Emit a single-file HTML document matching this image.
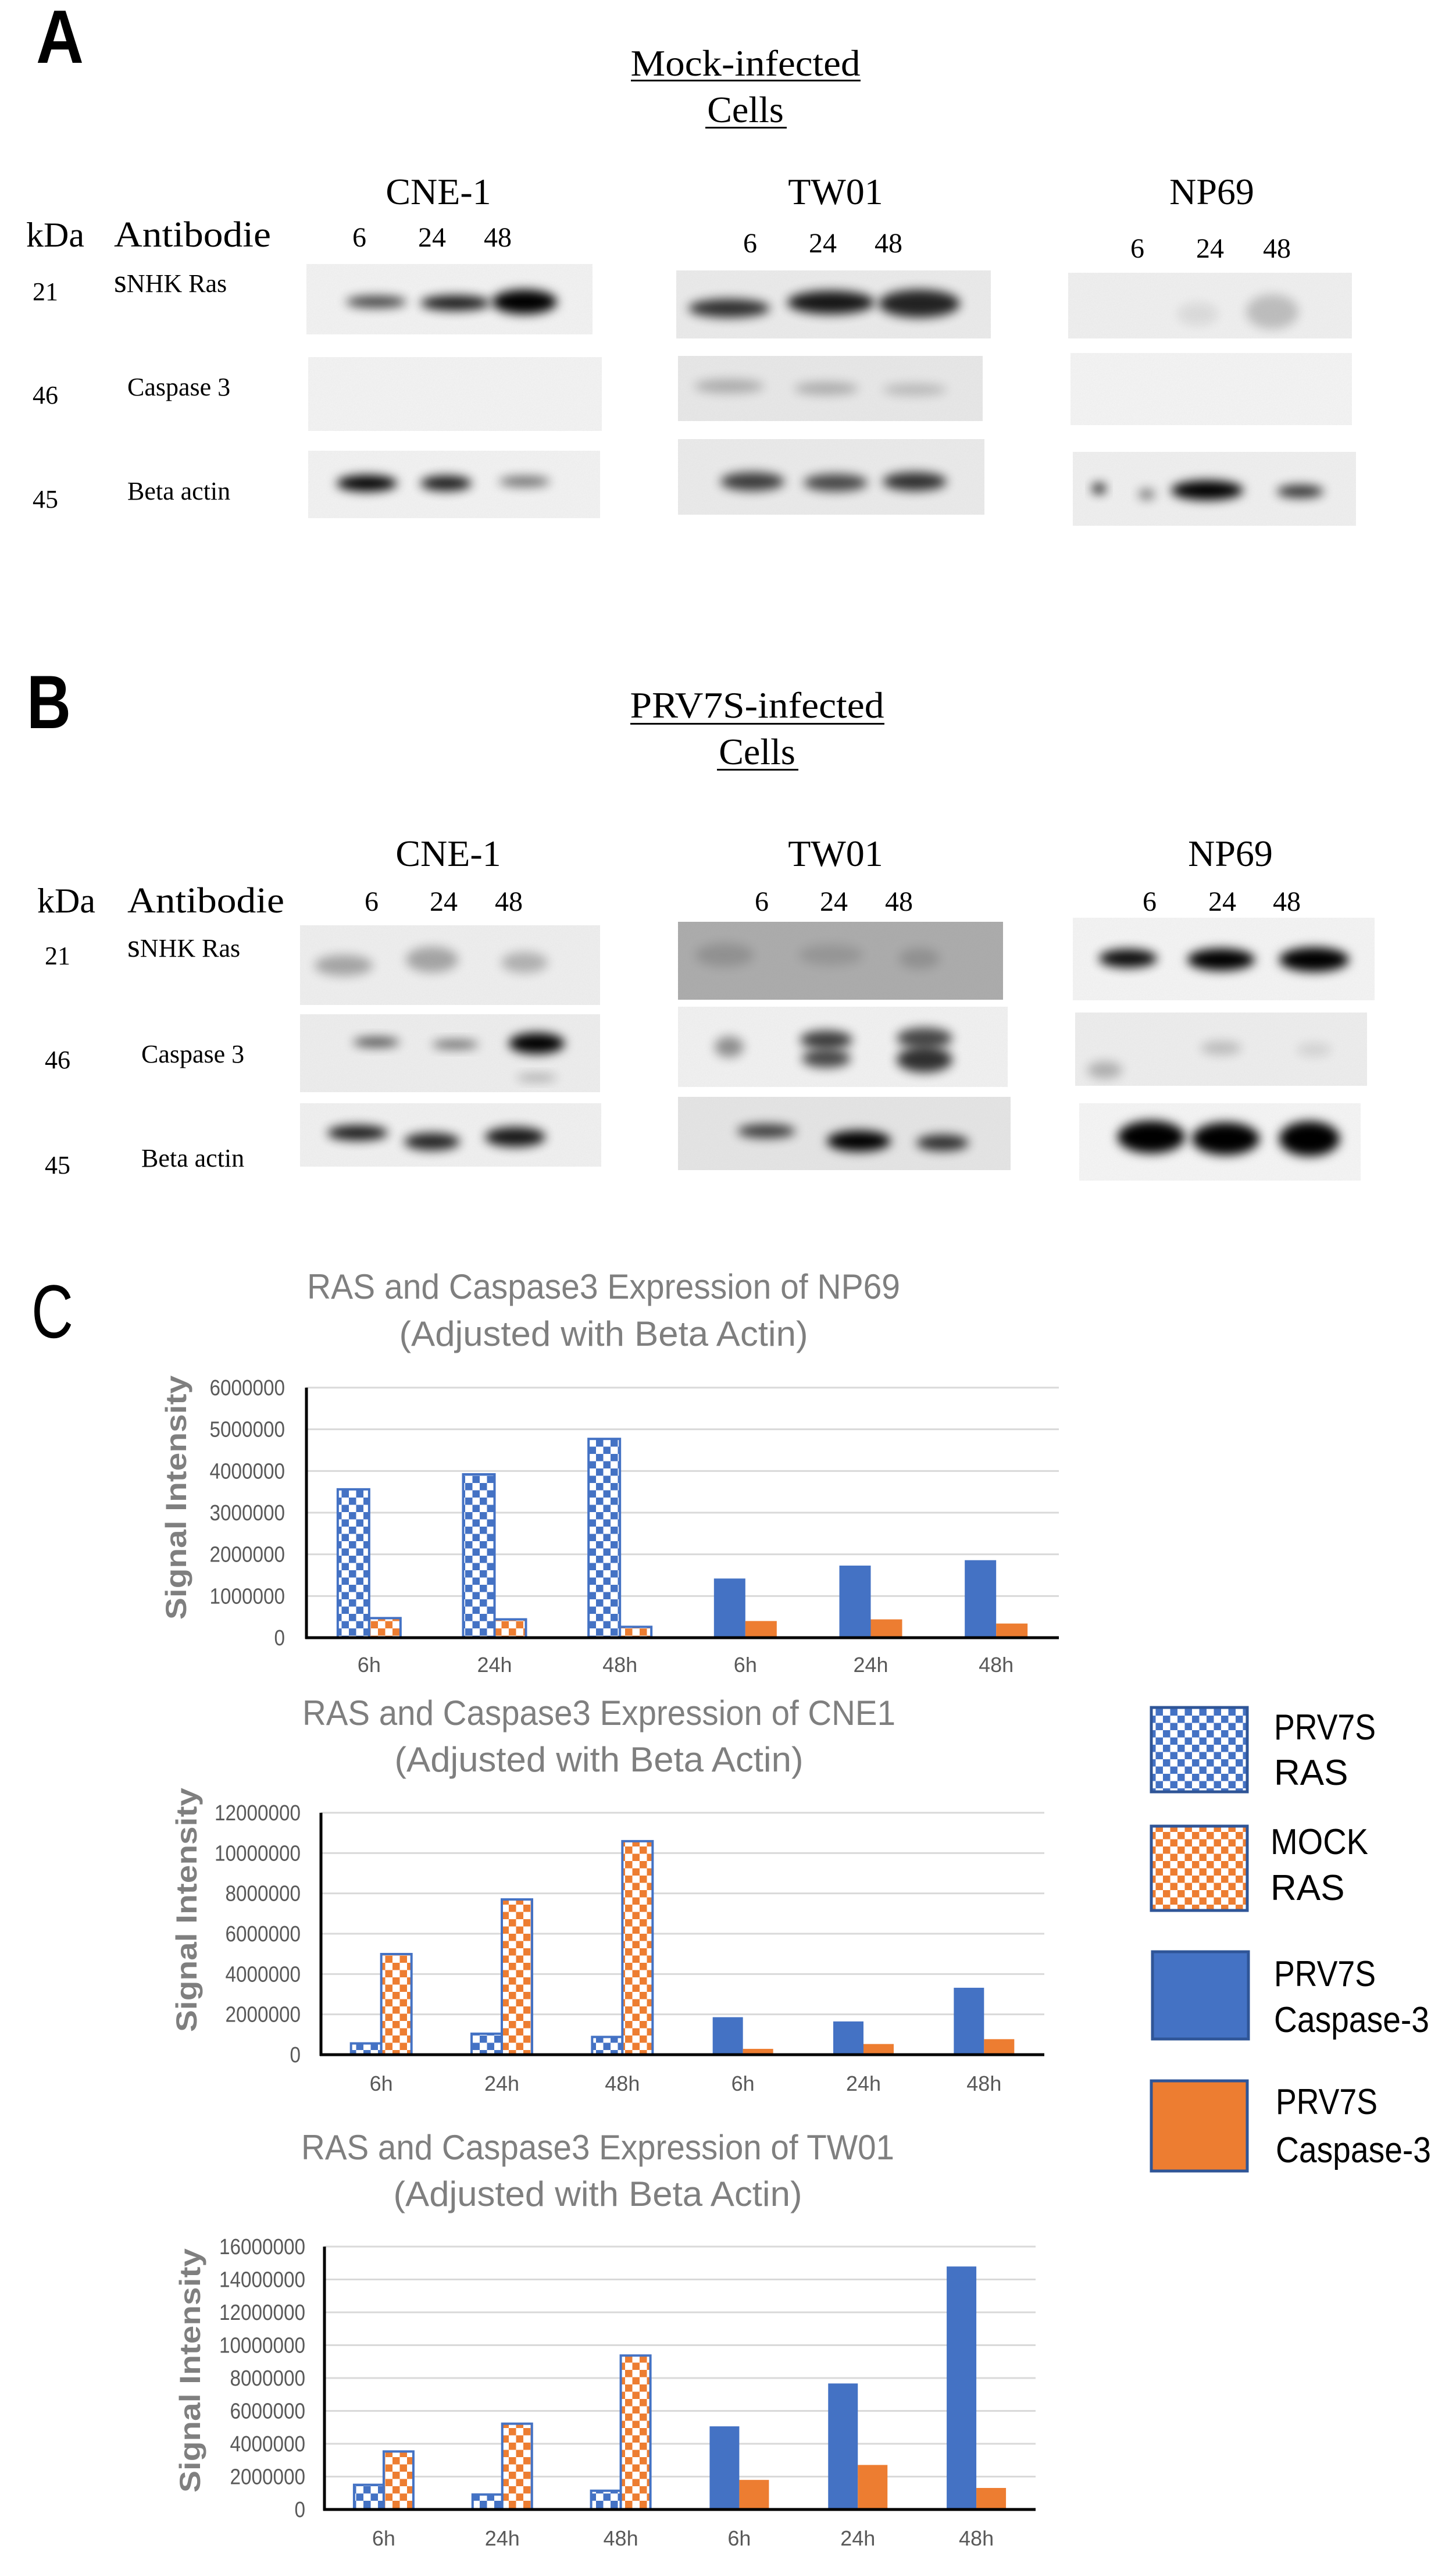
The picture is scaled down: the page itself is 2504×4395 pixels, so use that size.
<!DOCTYPE html>
<html><head><meta charset="utf-8"><style>
html,body{margin:0;padding:0;background:#fff;}
svg{display:block;}
.serif{font-family:"Liberation Serif",serif;fill:#000;}
.sans{font-family:"Liberation Sans",sans-serif;}
</style></head><body>
<svg id="fig" xmlns="http://www.w3.org/2000/svg" width="2504" height="4395" viewBox="0 0 2504 4395">
<defs>
<filter id="blur" x="-50%" y="-100%" width="200%" height="300%"><feGaussianBlur stdDeviation="9"/></filter>
<filter id="noise" x="0" y="0" width="100%" height="100%"><feTurbulence type="fractalNoise" baseFrequency="0.6" numOctaves="1" result="n"/><feColorMatrix type="matrix" values="0 0 0 0 0.5  0 0 0 0 0.5  0 0 0 0 0.5  0 0 0 0.18 0"/></filter>
<pattern id="chkBlue" width="25" height="25" patternUnits="userSpaceOnUse"><rect width="25" height="25" fill="#fff"/><rect width="12.5" height="12.5" fill="#4472c4"/><rect x="12.5" y="12.5" width="12.5" height="12.5" fill="#4472c4"/></pattern>
<pattern id="chkOrange" width="25" height="25" patternUnits="userSpaceOnUse"><rect width="25" height="25" fill="#fff"/><rect width="12.5" height="12.5" fill="#ed7d31"/><rect x="12.5" y="12.5" width="12.5" height="12.5" fill="#ed7d31"/></pattern>
</defs>

<!-- Panel A -->
<g>
<text x="62" y="108" class="sans" font-size="130" font-weight="bold" textLength="82" lengthAdjust="spacingAndGlyphs">A</text>
<text x="1282" y="130" class="serif" font-size="64" text-anchor="middle" textLength="395" lengthAdjust="spacingAndGlyphs">Mock-infected</text>
<rect x="1085" y="137" width="395" height="3" fill="#000"/>
<text x="1282" y="210" class="serif" font-size="64" text-anchor="middle">Cells</text>
<rect x="1213" y="218" width="140" height="3" fill="#000"/>
<text x="754" y="351" class="serif" font-size="64" text-anchor="middle">CNE-1</text>
<text x="1437" y="351" class="serif" font-size="64" text-anchor="middle">TW01</text>
<text x="2084" y="351" class="serif" font-size="64" text-anchor="middle">NP69</text>
<text x="45" y="424" class="serif" font-size="60">kDa</text>
<text x="196" y="424" class="serif" font-size="62" textLength="270" lengthAdjust="spacingAndGlyphs">Antibodie</text>
<g class="serif" font-size="48" text-anchor="middle">
<text x="618" y="424">6</text><text x="743" y="424">24</text><text x="856" y="424">48</text>
<text x="1290" y="434">6</text><text x="1415" y="434">24</text><text x="1528" y="434">48</text>
<text x="1956" y="443">6</text><text x="2081" y="443">24</text><text x="2196" y="443">48</text>
</g>
<g class="serif" font-size="44">
<text x="56" y="516">21</text><text x="196" y="502"><tspan font-size="56">s</tspan>NHK Ras</text>
<text x="56" y="694">46</text><text x="219" y="680">Caspase 3</text>
<text x="56" y="873">45</text><text x="219" y="859">Beta actin</text>
</g>
</g>

<!-- Panel B -->
<g>
<text x="46" y="1252" class="sans" font-size="130" font-weight="bold" textLength="76" lengthAdjust="spacingAndGlyphs">B</text>
<text x="1302" y="1234" class="serif" font-size="64" text-anchor="middle" textLength="437" lengthAdjust="spacingAndGlyphs">PRV7S-infected</text>
<rect x="1084" y="1243" width="437" height="3" fill="#000"/>
<text x="1302" y="1314" class="serif" font-size="64" text-anchor="middle">Cells</text>
<rect x="1233" y="1322" width="140" height="3" fill="#000"/>
<text x="771" y="1489" class="serif" font-size="64" text-anchor="middle">CNE-1</text>
<text x="1437" y="1489" class="serif" font-size="64" text-anchor="middle">TW01</text>
<text x="2116" y="1489" class="serif" font-size="64" text-anchor="middle">NP69</text>
<text x="64" y="1569" class="serif" font-size="60">kDa</text>
<text x="219" y="1569" class="serif" font-size="62" textLength="270" lengthAdjust="spacingAndGlyphs">Antibodie</text>
<g class="serif" font-size="48" text-anchor="middle">
<text x="639" y="1566">6</text><text x="763" y="1566">24</text><text x="875" y="1566">48</text>
<text x="1310" y="1566">6</text><text x="1434" y="1566">24</text><text x="1546" y="1566">48</text>
<text x="1977" y="1566">6</text><text x="2102" y="1566">24</text><text x="2213" y="1566">48</text>
</g>
<g class="serif" font-size="44">
<text x="77" y="1658">21</text><text x="219" y="1645"><tspan font-size="56">s</tspan>NHK Ras</text>
<text x="77" y="1837">46</text><text x="243" y="1827">Caspase 3</text>
<text x="77" y="2018">45</text><text x="243" y="2006">Beta actin</text>
</g>
</g>

<g id="blots"></g>

<!-- Panel C -->
<text x="54" y="2300" class="sans" font-size="130" textLength="72" lengthAdjust="spacingAndGlyphs">C</text>
<g id="charts"></g>

<!-- Legend -->
<g class="sans" font-size="62" fill="#000">
<g>
<rect x="1980" y="2936" width="165" height="145" fill="url(#chkBlue)" stroke="#2f5597" stroke-width="5"/>
<text x="2191" y="2991" textLength="175" lengthAdjust="spacingAndGlyphs">PRV7S</text><text x="2191" y="3069">RAS</text></g>
<g>
<rect x="1980" y="3140" width="165" height="145" fill="url(#chkOrange)" stroke="#2f5597" stroke-width="5"/>
<text x="2185" y="3188" textLength="168" lengthAdjust="spacingAndGlyphs">MOCK</text><text x="2185" y="3267">RAS</text></g>
<g>
<rect x="1982" y="3356" width="165" height="150" fill="#4472c4" stroke="#2f5597" stroke-width="5"/>
<text x="2191" y="3415" textLength="175" lengthAdjust="spacingAndGlyphs">PRV7S</text><text x="2191" y="3494" textLength="267" lengthAdjust="spacingAndGlyphs">Caspase-3</text></g>
<g>
<rect x="1980" y="3578" width="165" height="155" fill="#ed7d31" stroke="#2f5597" stroke-width="5"/>
<text x="2194" y="3635" textLength="175" lengthAdjust="spacingAndGlyphs">PRV7S</text><text x="2194" y="3718" textLength="267" lengthAdjust="spacingAndGlyphs">Caspase-3</text></g>
</g>
</svg>

<script>
var NS = 'http://www.w3.org/2000/svg';
function mk(tag, attrs, parent) {
  var e = document.createElementNS(NS, tag);
  for (var k in attrs) e.setAttribute(k, attrs[k]);
  parent.appendChild(e);
  return e;
}

// ---------- Chart data ----------
var categories = ['6h', '24h', '48h', '6h', '24h', '48h'];
var np69PrvRas = [3560000, 3920000, 4770000];
var np69MockRas = [470000, 440000, 260000];
var np69PrvCasp = [1420000, 1730000, 1860000];
var np69PrvCaspOrange = [400000, 440000, 340000];
var cne1PrvRas = [560000, 1040000, 880000];
var cne1MockRas = [4990000, 7700000, 10590000];
var cne1PrvCasp = [1860000, 1650000, 3320000];
var cne1PrvCaspOrange = [290000, 530000, 770000];
var tw01PrvRas = [1500000, 910000, 1140000];
var tw01MockRas = [3530000, 5220000, 9370000];
var tw01PrvCasp = [5060000, 7670000, 14790000];
var tw01PrvCaspOrange = [1800000, 2710000, 1310000];
var np69Ticks = [0, 1000000, 2000000, 3000000, 4000000, 5000000, 6000000];
var cne1Ticks = [0, 2000000, 4000000, 6000000, 8000000, 10000000, 12000000];
var tw01Ticks = [0, 2000000, 4000000, 6000000, 8000000, 10000000, 12000000, 14000000, 16000000];
var np69Title = ['RAS and Caspase3 Expression of NP69', '(Adjusted with Beta Actin)'];
var cne1Title = ['RAS and Caspase3 Expression of CNE1', '(Adjusted with Beta Actin)'];
var tw01Title = ['RAS and Caspase3 Expression of TW01', '(Adjusted with Beta Actin)'];

// ---------- Chart layout (pixels) ----------
var chartsG = document.getElementById('charts');
function drawChart(id, title, ticks, ras, mock, casp, caspO, L) {
  var g = mk('g', {}, chartsG);
  
  
  var maxV = ticks[ticks.length - 1];
  function y(v) { return L.zero - (v / maxV) * (L.zero - L.top); }
  var cw = (L.right - L.left) / categories.length;
  function cx(i) { return L.left + cw * (i + 0.5); }
  var t1 = mk('text', {x: L.tx, y: L.t1y, 'text-anchor': 'middle', 'font-size': 60, fill: '#7f7f7f', 'font-family': 'Liberation Sans, sans-serif', textLength: 1020, lengthAdjust: 'spacingAndGlyphs'}, g);
  t1.textContent = title[0];
  
  
  var t2 = mk('text', {x: L.tx, y: L.t2y, 'text-anchor': 'middle', 'font-size': 60, fill: '#7f7f7f', 'font-family': 'Liberation Sans, sans-serif', textLength: 703, lengthAdjust: 'spacingAndGlyphs'}, g);
  t2.textContent = title[1];
  
  
  ticks.forEach(function (t) {
    if (t > 0) mk('line', {x1: L.left, x2: L.right, y1: y(t), y2: y(t), stroke: '#d9d9d9', 'stroke-width': 3}, g);
    var lb = mk('text', {x: L.labR, y: y(t) + 13, 'text-anchor': 'end', 'font-size': 38, fill: '#595959', 'font-family': 'Liberation Sans, sans-serif'}, g);
    lb.textContent = String(t);
    lb.setAttribute('textLength', String(t).length * 18.5);
    lb.setAttribute('lengthAdjust', 'spacingAndGlyphs');
    
    
  });
  var at = mk('text', {x: 0, y: 0, transform: 'translate(' + (L.atx) + ',' + L.aty + ') rotate(-90)', 'text-anchor': 'middle', 'font-size': 50, 'font-weight': 'bold', fill: '#7f7f7f', 'font-family': 'Liberation Sans, sans-serif', textLength: 420, lengthAdjust: 'spacingAndGlyphs'}, g);
  at.textContent = 'Signal Intensity';
  
  
  var bw = L.bw;
  function bar(i, v, fill, stroke, nm) {
    var r = mk('rect', {x: cx(i) - (nm.side ? 0 : bw), y: y(v), width: bw, height: L.zero - y(v), fill: fill}, g);
    if (stroke) { r.setAttribute('stroke', '#4472c4'); r.setAttribute('stroke-width', 4); }
    
    
  }
  for (var i = 0; i < 3; i++) {
    bar(i, ras[i], 'url(#chkBlue)', true, {name: 'bar-prv7s-ras', side: 0});
    bar(i, mock[i], 'url(#chkOrange)', true, {name: 'bar-mock-ras', side: 1});
    bar(i + 3, casp[i], '#4472c4', false, {name: 'bar-prv7s-caspase3', side: 0});
    bar(i + 3, caspO[i], '#ed7d31', false, {name: 'bar-prv7s-caspase3-orange', side: 1});
  }
  mk('line', {x1: L.left, x2: L.left, y1: L.top, y2: L.zero + 2, stroke: '#000', 'stroke-width': 5}, g);
  mk('line', {x1: L.left - 2, x2: L.right, y1: L.zero, y2: L.zero, stroke: '#000', 'stroke-width': 5}, g);
  categories.forEach(function (c, i) {
    var ct = mk('text', {x: cx(i), y: L.caty, 'text-anchor': 'middle', 'font-size': 36, fill: '#595959', 'font-family': 'Liberation Sans, sans-serif'}, g);
    ct.textContent = c;
    
    
  });
}
drawChart('np69', np69Title, np69Ticks, np69PrvRas, np69MockRas, np69PrvCasp, np69PrvCaspOrange,
  {left: 527, right: 1821, top: 2386, zero: 2816, bw: 54, tx: 1038, t1y: 2233, t2y: 2314, labR: 490, atx: 320, aty: 2575, caty: 2875});
drawChart('cne1', cne1Title, cne1Ticks, cne1PrvRas, cne1MockRas, cne1PrvCasp, cne1PrvCaspOrange,
  {left: 552, right: 1796, top: 3117, zero: 3533, bw: 52, tx: 1030, t1y: 2966, t2y: 3046, labR: 517, atx: 338, aty: 3284, caty: 3595});
drawChart('tw01', tw01Title, tw01Ticks, tw01PrvRas, tw01MockRas, tw01PrvCasp, tw01PrvCaspOrange,
  {left: 558, right: 1781, top: 3863, zero: 4315, bw: 51, tx: 1028, t1y: 3713, t2y: 3793, labR: 525, atx: 344, aty: 4076, caty: 4377});

// ---------- Western blots ----------
var blotsG = document.getElementById('blots');
var blotList = [
  ['cne1-mock-ras', 527, 454, 492, 121, '#f4f4f4', [[647,519,52,10,0.75],[783,521,60,13,0.9],[902,519,56,21,1]]],
  ['cne1-mock-casp3', 530, 614, 505, 127, '#f5f5f5', []],
  ['cne1-mock-actin', 530, 775, 502, 116, '#f4f4f4', [[631,831,52,14,1],[767,831,44,13,0.9],[902,828,44,9,0.55]]],
  ['tw01-mock-ras', 1163, 465, 541, 117, '#ececec', [[1254,530,70,16,0.8],[1429,520,75,20,0.9],[1581,522,70,24,0.85]]],
  ['tw01-mock-casp3', 1166, 612, 524, 112, '#e9e9e9', [[1254,664,60,12,0.25],[1421,668,55,11,0.25],[1573,670,55,10,0.2]]],
  ['tw01-mock-actin', 1166, 755, 527, 130, '#ececec', [[1294,828,55,16,0.75],[1437,830,55,15,0.7],[1573,828,55,16,0.8]]],
  ['np69-mock-ras', 1837, 469, 488, 113, '#f1f1f1', [[2060,540,35,20,0.08],[2188,536,45,30,0.2]]],
  ['np69-mock-casp3', 1841, 607, 484, 124, '#f6f6f6', []],
  ['np69-mock-actin', 1845, 777, 487, 127, '#f1f1f1', [[1890,840,12,9,0.9],[1972,850,14,9,0.5],[2076,843,62,17,1],[2236,845,40,11,0.8]]],
  ['cne1-prv7s-ras', 516, 1591, 516, 137, '#f0f0f0', [[591,1660,50,18,0.3],[743,1650,45,22,0.3],[902,1655,40,18,0.25]]],
  ['cne1-prv7s-casp3', 516, 1744, 516, 134, '#efefef', [[647,1792,40,8,0.7],[783,1796,40,7,0.6],[923,1794,48,18,1],[923,1853,35,6,0.3]]],
  ['cne1-prv7s-actin', 516, 1897, 518, 109, '#f2f2f2', [[615,1948,52,13,0.9],[743,1963,48,15,0.85],[886,1955,52,17,0.9]]],
  ['tw01-prv7s-ras', 1166, 1585, 559, 134, '#a9a9a9', [[1246,1642,50,20,0.15],[1429,1642,55,18,0.12],[1581,1648,35,18,0.15]]],
  ['tw01-prv7s-casp3', 1166, 1731, 567, 138, '#f3f3f3', [[1254,1800,25,18,0.4],[1421,1788,45,16,0.75],[1421,1820,42,16,0.7],[1590,1785,48,18,0.7],[1590,1822,48,22,0.8]]],
  ['tw01-prv7s-actin', 1166, 1886, 572, 126, '#e6e6e6', [[1318,1945,50,12,0.75],[1477,1962,55,18,1],[1621,1965,45,14,0.8]]],
  ['np69-prv7s-ras', 1845, 1578, 519, 142, '#f6f6f6', [[1940,1648,50,16,0.95],[2100,1650,58,19,1],[2260,1650,60,21,1]]],
  ['np69-prv7s-casp3', 1849, 1741, 502, 126, '#efefef', [[1900,1840,30,15,0.25],[2100,1802,35,12,0.2],[2260,1805,30,12,0.1]]],
  ['np69-prv7s-actin', 1856, 1897, 484, 133, '#f7f7f7', [[1980,1955,58,28,1],[2108,1958,58,28,1],[2252,1958,52,30,1]]]
];
blotList.forEach(function (b) {
  var g = mk('g', {}, blotsG);
  
  
  var cp = 'clip-' + b[0];
  var c = mk('clipPath', {id: cp}, g);
  mk('rect', {x: b[1], y: b[2], width: b[3], height: b[4]}, c);
  mk('rect', {x: b[1], y: b[2], width: b[3], height: b[4], fill: b[5]}, g);
  mk('rect', {x: b[1], y: b[2], width: b[3], height: b[4], filter: 'url(#noise)'}, g);
  var inner = mk('g', {'clip-path': 'url(#' + cp + ')'}, g);
  b[6].forEach(function (d) {
    var e = mk('ellipse', {cx: d[0], cy: d[1], rx: d[2], ry: d[3], fill: '#000', opacity: d[4], filter: 'url(#blur)'}, inner);
    
    
  });
});
</script>
</body></html>
